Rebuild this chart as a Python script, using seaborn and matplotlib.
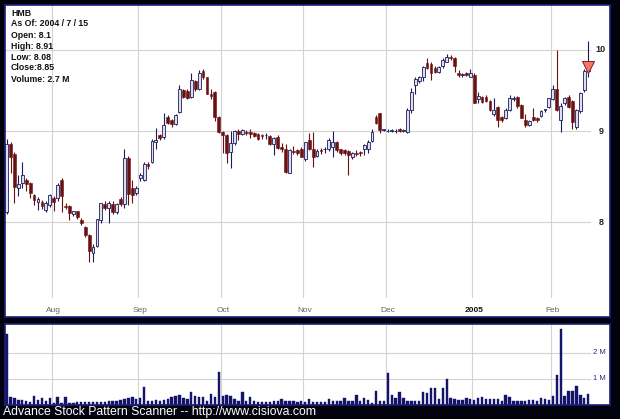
import numpy as np
import pandas as pd
import matplotlib
matplotlib.use("Agg")
import matplotlib.pyplot as plt
import seaborn as sns

# HMB daily prices, 2004-07-15 .. 2005-02-14
opens = [8.10, 8.85, 8.74, 8.36, 8.42, 8.45, 8.41, 8.28, 8.21, 8.21, 8.13, 8.18,
         8.25, 8.25, 8.45, 8.17, 8.17, 8.08, 8.11, 8.02, 7.95, 7.87, 7.69, 7.76,
         8.02, 8.19, 8.15, 8.19, 8.10, 8.24, 8.19, 8.69, 8.36, 8.31,
         8.47, 8.45, 8.63, 8.65, 8.88, 8.95, 8.93, 9.17, 9.13, 9.09, 9.23, 9.49,
         9.48, 9.41, 9.60, 9.50, 9.73, 9.65, 9.45, 9.47, 9.17,
         8.99, 8.95, 8.76, 8.86, 9.00, 8.97, 8.99, 8.99, 8.98, 8.97, 8.95, 8.95,
         8.94, 8.85, 8.93, 8.82, 8.80, 8.53, 8.77, 8.78, 8.80,
         8.68, 8.90, 8.80, 8.72, 8.78, 8.79, 8.79, 8.82, 8.87, 8.79, 8.78, 8.77,
         8.70, 8.75, 8.76, 8.79, 8.79, 8.89, 9.17, 9.21, 9.01,
         9.00, 9.00, 9.00, 9.03, 9.00, 8.99, 9.25, 9.55, 9.60, 9.65, 9.83, 9.82,
         9.77, 9.72, 9.79, 9.85, 9.91, 9.90, 9.70, 9.68, 9.70, 9.66,
         9.68, 9.38, 9.41, 9.41, 9.36, 9.20, 9.29, 9.17, 9.16, 9.25, 9.38, 9.41,
         9.31, 9.13, 9.07, 9.17, 9.15, 9.18, 9.25, 9.29,
         9.38, 9.51, 9.13, 9.33, 9.41, 9.36, 9.05, 9.24, 9.49, 9.73]
highs = [8.91, 8.87, 8.76, 8.50, 8.65, 8.47, 8.43, 8.30, 8.26, 8.23, 8.22, 8.30,
         8.27, 8.41, 8.47, 8.20, 8.18, 8.12, 8.12, 8.04, 7.96, 7.88, 7.78, 8.03,
         8.20, 8.22, 8.22, 8.22, 8.20, 8.26, 8.80, 8.71, 8.45, 8.38,
         8.52, 8.65, 8.65, 8.91, 9.04, 8.97, 9.22, 9.19, 9.14, 9.20, 9.55, 9.51,
         9.50, 9.70, 9.62, 9.74, 9.76, 9.66, 9.50, 9.48, 9.18,
         9.00, 8.97, 9.00, 9.01, 9.02, 9.03, 9.01, 9.02, 8.99, 8.98, 8.97, 8.98,
         8.95, 8.93, 8.96, 8.86, 8.85, 8.79, 8.83, 8.79, 8.82,
         8.88, 8.98, 8.99, 8.80, 8.81, 8.82, 8.92, 9.00, 8.89, 8.80, 8.79, 8.78,
         8.76, 8.78, 8.77, 8.85, 8.90, 9.02, 9.19, 9.22, 9.03,
         9.02, 9.02, 9.03, 9.04, 9.02, 9.27, 9.52, 9.66, 9.67, 9.79, 9.90, 9.84,
         9.79, 9.80, 9.89, 9.95, 9.93, 9.91, 9.74, 9.71, 9.72, 9.76,
         9.70, 9.47, 9.42, 9.43, 9.37, 9.40, 9.30, 9.18, 9.27, 9.43, 9.42, 9.42,
         9.32, 9.20, 9.13, 9.27, 9.17, 9.25, 9.26, 9.40,
         9.56, 10.00, 9.33, 9.41, 9.43, 9.37, 9.26, 9.47, 9.75, 10.12]
lows = [8.08, 8.52, 8.20, 8.27, 8.36, 8.33, 8.25, 8.18, 8.13, 8.14, 8.10, 8.16,
        8.11, 8.22, 8.10, 8.14, 8.02, 8.06, 8.03, 7.97, 7.85, 7.60, 7.60, 7.75,
        7.99, 8.13, 7.99, 8.08, 8.08, 8.17, 8.15, 8.18, 8.20, 8.28,
        8.44, 8.44, 8.57, 8.64, 8.80, 8.90, 8.91, 9.09, 9.05, 9.07, 9.22, 9.40,
        9.38, 9.40, 9.48, 9.49, 9.63, 9.44, 9.38, 9.12, 8.98,
        8.75, 8.64, 8.58, 8.84, 8.90, 8.95, 8.96, 8.92, 8.93, 8.90, 8.91, 8.91,
        8.84, 8.73, 8.80, 8.76, 8.52, 8.52, 8.74, 8.73, 8.70,
        8.66, 8.78, 8.59, 8.70, 8.74, 8.75, 8.77, 8.70, 8.76, 8.73, 8.73, 8.50,
        8.68, 8.71, 8.72, 8.73, 8.75, 8.87, 9.08, 8.98, 9.00,
        8.99, 8.99, 8.98, 8.99, 8.99, 8.98, 9.22, 9.45, 9.58, 9.60, 9.76, 9.62,
        9.70, 9.70, 9.77, 9.84, 9.87, 9.72, 9.65, 9.66, 9.67, 9.65,
        9.33, 9.33, 9.34, 9.35, 9.24, 9.18, 9.05, 9.11, 9.14, 9.24, 9.36, 9.28,
        9.15, 9.05, 9.06, 9.12, 9.11, 9.17, 9.23, 9.28,
        9.37, 9.24, 8.99, 9.31, 9.28, 9.03, 9.03, 9.22, 9.47, 9.65]
closes = [8.85, 8.70, 8.37, 8.40, 8.50, 8.40, 8.31, 8.23, 8.24, 8.17, 8.20, 8.29,
          8.21, 8.39, 8.27, 8.16, 8.09, 8.11, 8.05, 7.99, 7.87, 7.70, 7.75, 8.03,
          8.20, 8.15, 8.20, 8.10, 8.19, 8.19, 8.69, 8.30, 8.29, 8.36,
          8.50, 8.63, 8.60, 8.89, 8.90, 8.92, 9.07, 9.10, 9.09, 9.19, 9.50, 9.41,
          9.40, 9.62, 9.50, 9.71, 9.65, 9.45, 9.42, 9.17, 8.99,
          8.95, 8.75, 8.86, 9.00, 8.97, 9.01, 8.98, 8.97, 8.94, 8.91, 8.94, 8.96,
          8.85, 8.92, 8.81, 8.79, 8.54, 8.78, 8.76, 8.75, 8.70,
          8.87, 8.80, 8.70, 8.77, 8.77, 8.80, 8.90, 8.87, 8.78, 8.75, 8.75, 8.73,
          8.75, 8.74, 8.75, 8.84, 8.88, 8.99, 9.10, 9.01, 9.02,
          9.00, 9.01, 9.00, 9.00, 9.01, 9.25, 9.47, 9.63, 9.65, 9.78, 9.77, 9.71,
          9.72, 9.78, 9.87, 9.91, 9.89, 9.79, 9.68, 9.69, 9.68, 9.71,
          9.34, 9.42, 9.35, 9.36, 9.25, 9.25, 9.13, 9.13, 9.25, 9.40, 9.40, 9.30,
          9.16, 9.07, 9.12, 9.13, 9.13, 9.24, 9.25, 9.39,
          9.51, 9.25, 9.30, 9.40, 9.29, 9.11, 9.25, 9.46, 9.73, 9.78]
volume_m = [2.70, 0.32, 0.28, 0.20, 0.18, 0.15, 0.12, 0.35, 0.18, 0.26, 0.14, 0.27,
            0.08, 0.32, 0.06, 0.32, 0.06, 0.08, 0.10, 0.10, 0.11, 0.12, 0.10, 0.13,
            0.11, 0.13, 0.15, 0.14, 0.17, 0.20, 0.23, 0.26, 0.30, 0.24,
            0.26, 0.70, 0.17, 0.17, 0.20, 0.17, 0.20, 0.23, 0.30, 0.33, 0.40, 0.26,
            0.22, 0.50, 0.35, 0.30, 0.30, 0.17, 0.42, 0.30, 1.25,
            0.36, 0.38, 0.35, 0.22, 0.17, 0.50, 0.17, 0.30, 0.14, 0.10, 0.10, 0.10,
            0.13, 0.14, 0.14, 0.22, 0.17, 0.17, 0.14, 0.10, 0.14,
            0.10, 0.22, 0.10, 0.13, 0.10, 0.10, 0.22, 0.17, 0.17, 0.14, 0.26, 0.17,
            0.17, 0.40, 0.17, 0.26, 0.19, 0.06, 0.53, 0.17, 0.14,
            1.23, 0.40, 0.26, 0.48, 0.26, 0.17, 0.14, 0.17, 0.17, 0.49, 0.45, 0.64,
            0.64, 0.23, 0.64, 1.00, 0.26, 0.22, 0.19, 0.19, 0.25, 0.22,
            0.19, 0.26, 0.32, 0.22, 0.22, 0.23, 0.23, 0.17, 0.40, 0.29, 0.17, 0.17,
            0.17, 0.17, 0.19, 0.19, 0.17, 0.26, 0.22, 0.19,
            0.35, 1.15, 2.90, 0.35, 0.53, 0.53, 0.74, 0.40, 0.26, 0.42]

holidays = ["2004-09-06", "2004-11-25", "2004-12-24", "2005-01-17"]
month_labels = ["Aug", "Sep", "Oct", "Nov", "Dec", "2005", "Feb"]
price_ticks = [8, 9, 10]
volume_ticks = [1, 2]
info_lines = ["HMB", "As Of: 2004 / 7 / 15", "Open: 8.1", "High: 8.91",
              "Low: 8.08", "Close:8.85", "Volume: 2.7 M"]

df = pd.DataFrame({"open": opens, "high": highs, "low": lows,
                   "close": closes, "vol": volume_m})
df["date"] = pd.bdate_range("2004-07-15", periods=len(df), freq="C", holidays=holidays)
df["pos"] = np.arange(len(df))
# month boundaries sit between the last and first trading days
month_pos = df.groupby(df["date"].dt.to_period("M"))["pos"].min().values[1:] - 0.5

sns.set_style("white")
plt.rcParams["font.family"] = ["Liberation Sans", "DejaVu Sans"]

navy = "#14146a"
grid_c = "#d2d2d2"
up_fill, up_edge = "#dedeee", "#1c1c5a"
down_c = "#6a1212"
x_lo, x_hi = -0.4, 153.55

fig = plt.figure(figsize=(6.2, 4.19), dpi=100, facecolor="#02020f")
ax = fig.add_axes([5 / 620, 102 / 419, 605 / 620, 312 / 419])
axv = fig.add_axes([5 / 620, 14 / 419, 605 / 620, 81 / 419])

# price panel
ax.set_yscale("log")
up = df["close"] >= df["open"]
dn = ~up
ax.vlines(df.loc[up, "pos"], df.loc[up, "low"], df.loc[up, "high"], color=up_edge, lw=0.8, zorder=2)
ax.vlines(df.loc[dn, "pos"], df.loc[dn, "low"], df.loc[dn, "high"], color=down_c, lw=0.8, zorder=2)
body_up = np.maximum(df.loc[up, "close"] - df.loc[up, "open"], 0.008)
body_dn = np.maximum(df.loc[dn, "open"] - df.loc[dn, "close"], 0.008)
ax.bar(df.loc[up, "pos"], body_up, bottom=df.loc[up, "open"], width=0.72,
       color=up_fill, edgecolor=up_edge, linewidth=0.6, zorder=3)
ax.bar(df.loc[dn, "pos"], body_dn, bottom=df.loc[dn, "close"], width=0.72,
       color=down_c, edgecolor=down_c, linewidth=0.4, zorder=3)
# pattern marker on the last bar
ax.plot(df["pos"].iloc[-1], df["close"].iloc[-1], marker="v", ms=8,
        mfc="#f07868", mec="#8a1a1a", mew=0.7, zorder=4)

ax.set_xlim(x_lo, x_hi)
ax.set_ylim(7.073, 10.60)
for t in price_ticks:
    ax.axhline(t, xmax=0.967, color=grid_c, lw=0.8, zorder=0)
    ax.text(0.985, t, str(t), transform=ax.get_yaxis_transform(), ha="center",
            va="center", fontsize=6.5, fontweight="bold", color="#222222")
for p, lab in zip(month_pos, month_labels):
    ax.axvline(p, ymin=0.064, color=grid_c, lw=0.8, zorder=0)
    ax.text(p + 0.5, 0.022, lab, transform=ax.get_xaxis_transform(), ha="center",
            va="center", fontsize=6,
            fontweight="bold" if lab == "2005" else "normal",
            color="#111111" if lab == "2005" else "#666666")

# volume panel
sns.barplot(x=df["pos"], y=df["vol"], color=navy, saturation=1, width=0.6,
            edgecolor=navy, linewidth=0.3, errorbar=None, ax=axv)
axv.set_xlim(x_lo, x_hi)
axv.set_ylim(0, 3.1)
for t in volume_ticks:
    axv.axhline(t, xmax=0.967, color=grid_c, lw=0.8, zorder=0)
    axv.text(0.983, t, f"{t} M", transform=axv.get_yaxis_transform(), ha="center",
             va="center", fontsize=5.5, color="#2a2a80")
for p in month_pos:
    axv.axvline(p, color=grid_c, lw=0.8, zorder=0)
axv.set_xlabel("")
axv.set_ylabel("")

for a in (ax, axv):
    a.set_facecolor("white")
    a.minorticks_off()
    a.set_xticks([])
    a.set_yticks([])
    for s in a.spines.values():
        s.set_color("#1e1e78")
        s.set_linewidth(1.2)

for k, line in enumerate(info_lines):
    fig.text(11 / 620, 1 - (13 + 11 * k) / 419, line, fontsize=6.3,
             fontweight="bold", color="#111111", va="center")

fig.text(3 / 620, 1 - 412 / 419, "Advance Stock Pattern Scanner -- http://www.cisiova.com",
         fontsize=8.8, color="white", va="center")

fig.savefig("out.png", dpi=100, facecolor=fig.get_facecolor())
